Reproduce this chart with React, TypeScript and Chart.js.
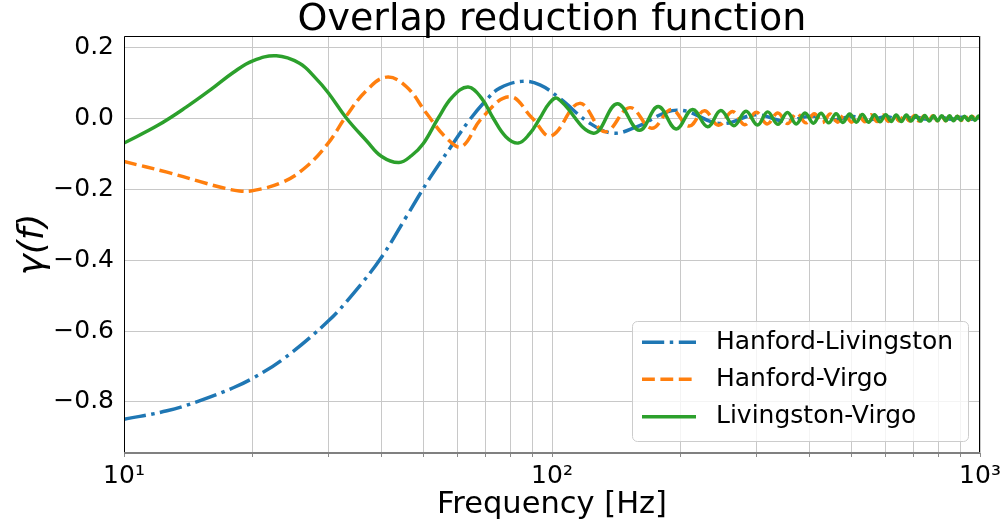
import { useEffect, useRef } from "react";
import { Chart, registerables } from "chart.js";

Chart.register(...registerables);

const FONT = "'DejaVu Sans', 'Liberation Sans', sans-serif";

const chartTitle = "Overlap reduction function";
const xAxisTitle = "Frequency [Hz]";
const yAxisTitle = "γ(f)";
const seriesNames = ["Hanford-Livingston", "Hanford-Virgo", "Livingston-Virgo"];
const seriesColors = ["#1f77b4", "#ff7f0e", "#2ca02c"];

// Hanford-Livingston
const hlFreq = [
  10, 12.6, 15, 18, 20, 23.5, 30, 34.3, 40, 45.7,
  51.8, 57.7, 63.7, 70.3, 75.5, 85, 93.7, 104.3, 122.6, 139,
  157.6, 196, 248, 300, 350, 402, 452, 503, 553, 605,
  655, 706, 756, 807, 857, 908, 958, 1000,
];
const hlGamma = [
  -0.849, -0.825, -0.797, -0.76, -0.733, -0.68, -0.572, -0.495, -0.391, -0.277,
  -0.169, -0.085, -0.01, 0.052, 0.085, 0.104, 0.094, 0.056, -0.014, -0.042,
  -0.024, 0.023, -0.015, 0.01, -0.008, 0.006, -0.005, 0.005, -0.004, 0.004,
  -0.004, 0.003, -0.003, 0.003, -0.003, 0.003, -0.003, 0.001,
];

// Hanford-Virgo
const hvFreq = [
  10, 12.6, 15, 17, 18.6, 20, 23.5, 26.7, 30, 33.1,
  36.9, 41.1, 45.7, 50.9, 56.7, 61.5, 68.5, 79.7, 90, 99.5,
  116, 133, 152, 171, 190, 209, 227, 245, 264, 282,
  300, 318, 337, 355, 373, 392, 410, 428, 447, 465,
  483, 501, 520, 538, 556, 575, 593, 611, 630, 648,
  666, 685, 703, 721, 740, 758, 776, 795, 813, 831,
  849, 868, 886, 904, 923, 941, 959, 978, 996, 1000,
];
const hvGamma = [
  -0.122, -0.152, -0.178, -0.196, -0.205, -0.204, -0.18, -0.136, -0.07, 0.007,
  0.079, 0.116, 0.089, 0.014, -0.056, -0.08, 0.0, 0.061, 0.0, -0.05,
  0.042, -0.038, 0.03, -0.028, 0.025, -0.022, 0.021, -0.02, 0.019, -0.018,
  0.017, -0.016, 0.015, -0.015, 0.014, -0.013, 0.013, -0.012, 0.012, -0.011,
  0.011, -0.011, 0.01, -0.01, 0.01, -0.009, 0.009, -0.009, 0.009, -0.008,
  0.008, -0.008, 0.008, -0.008, 0.007, -0.007, 0.007, -0.007, 0.007, -0.007,
  0.006, -0.006, 0.006, -0.006, 0.006, -0.006, 0.006, -0.005, 0.005, 0.004,
];

// Livingston-Virgo
const lvFreq = [
  10, 12, 14, 16, 18, 20, 22.7, 25.7, 28, 30,
  33.1, 36.9, 40, 43.9, 47, 50, 54.2, 58.5, 63.7, 68.5,
  72.9, 78, 83.4, 88.5, 93.7, 98.5, 103, 125, 142, 160,
  177, 195, 213, 231, 248, 266, 284, 302, 319, 337,
  355, 372, 390, 408, 425, 443, 461, 478, 496, 514,
  531, 549, 567, 584, 602, 620, 637, 655, 673, 690,
  708, 726, 743, 761, 779, 796, 814, 832, 849, 867,
  885, 902, 920, 938, 955, 973, 991, 1000,
];
const lvGamma = [
  -0.07, -0.02, 0.032, 0.082, 0.129, 0.162, 0.176, 0.155, 0.114, 0.072,
  0.0, -0.064, -0.108, -0.125, -0.105, -0.072, 0.0, 0.06, 0.088, 0.056,
  0.0, -0.052, -0.07, -0.045, 0.0, 0.042, 0.056, -0.042, 0.041, -0.034,
  0.033, -0.03, 0.025, -0.024, 0.022, -0.021, 0.02, -0.019, 0.018, -0.017,
  0.016, -0.016, 0.015, -0.014, 0.014, -0.013, 0.013, -0.012, 0.012, -0.011,
  0.011, -0.011, 0.01, -0.01, 0.01, -0.009, 0.009, -0.009, 0.009, -0.008,
  0.008, -0.008, 0.008, -0.008, 0.007, -0.007, 0.007, -0.007, 0.007, -0.007,
  0.006, -0.006, 0.006, -0.006, 0.006, -0.006, 0.006, 0.004,
];

const xTickValues = [
  10, 20, 30, 40, 50, 60, 70, 80, 90,
  100, 200, 300, 400, 500, 600, 700, 800, 900, 1000,
];
const xMajorTicks = [10, 100, 1000];
const xMajorLabels = ["10¹", "10²", "10³"];
const yTickValues = [-0.8, -0.6, -0.4, -0.2, 0.0, 0.2];
const yTickLabels = ["−0.8", "−0.6", "−0.4", "−0.2", "0.0", "0.2"];

const LW = 3.47;
const dashes = [
  [6.4 * LW, 1.6 * LW, 1 * LW, 1.6 * LW],
  [3.7 * LW, 1.6 * LW],
  [],
];

const toPoints = (xs: number[], ys: number[]) => xs.map((x, i) => ({ x, y: ys[i] }));

const decorPlugin = {
  id: "decor",
  afterDatasetsDraw(chart: any) {
    const { ctx, chartArea: a } = chart;
    ctx.save();
    // frame
    ctx.strokeStyle = "#000";
    ctx.lineWidth = 1;
    ctx.beginPath();
    ctx.moveTo(a.left + 0.5, a.bottom);
    ctx.lineTo(a.left + 0.5, a.top + 0.5);
    ctx.lineTo(a.right - 0.5, a.top + 0.5);
    ctx.lineTo(a.right - 0.5, a.bottom);
    ctx.stroke();
    ctx.strokeStyle = "#808080";
    ctx.lineWidth = 2;
    ctx.beginPath();
    ctx.moveTo(a.left, a.bottom);
    ctx.lineTo(a.right, a.bottom);
    ctx.stroke();
    ctx.restore();
  },
  afterDraw(chart: any) {
    const { ctx, chartArea: a } = chart;
    ctx.save();
    // title
    ctx.fillStyle = "#000";
    ctx.font = `38px ${FONT}`;
    ctx.textAlign = "center";
    ctx.textBaseline = "alphabetic";
    ctx.fillText(chartTitle, (a.left + a.right) / 2, 29.5);

    // legend box, lower right
    const w = 336;
    const h = 120;
    const x0 = a.right - 12 - w;
    const y0 = a.bottom - 12 - h;
    ctx.beginPath();
    ctx.roundRect(x0 + 0.5, y0 + 0.5, w, h, 5);
    ctx.fillStyle = "rgba(255,255,255,0.8)";
    ctx.fill();
    ctx.strokeStyle = "#cccccc";
    ctx.lineWidth = 1;
    ctx.stroke();

    const rowY = [y0 + 21.3, y0 + 58.3, y0 + 95.7];
    ctx.font = `25px ${FONT}`;
    ctx.textAlign = "left";
    ctx.textBaseline = "middle";
    seriesNames.forEach((name, i) => {
      ctx.beginPath();
      ctx.setLineDash(dashes[i]);
      ctx.lineDashOffset = 0;
      ctx.strokeStyle = seriesColors[i];
      ctx.lineWidth = LW;
      ctx.lineCap = "butt";
      ctx.moveTo(x0 + 10, rowY[i]);
      ctx.lineTo(x0 + 64, rowY[i]);
      ctx.stroke();
      ctx.setLineDash([]);
      ctx.fillStyle = "#000";
      ctx.fillText(name, x0 + 84, rowY[i]);
    });
    ctx.restore();
  },
};

export default function App() {
  const ref = useRef<HTMLCanvasElement>(null);

  useEffect(() => {
    document.body.style.margin = "0";
    const series = [
      { f: hlFreq, g: hlGamma },
      { f: hvFreq, g: hvGamma },
      { f: lvFreq, g: lvGamma },
    ];
    const chart = new Chart(ref.current as HTMLCanvasElement, {
      type: "line",
      data: {
        datasets: series.map((s, i) => ({
          label: seriesNames[i],
          data: toPoints(s.f, s.g),
          borderColor: seriesColors[i],
          backgroundColor: seriesColors[i],
          borderWidth: LW,
          borderDash: dashes[i],
          borderCapStyle: "butt",
          borderJoinStyle: "round",
          pointRadius: 0,
          fill: false,
          tension: 0.4,
          order: 2 - i,
        })),
      },
      options: {
        responsive: false,
        animation: false,
        devicePixelRatio: 1,
        events: [],
        layout: { padding: { top: 36, right: 26, bottom: 0, left: 0 } },
        plugins: {
          legend: { display: false },
          title: { display: false },
          tooltip: { enabled: false },
        },
        scales: {
          x: {
            type: "logarithmic",
            min: 10,
            max: 1000,
            afterBuildTicks: (s: any) => {
              s.ticks = xTickValues.map((v) => ({ value: v }));
            },
            afterFit: (s: any) => {
              s.height = 76;
            },
            border: { display: false },
            grid: {
              color: "#c8c8c8",
              lineWidth: 1,
              drawTicks: true,
              tickLength: 4,
              tickColor: "#8a8a8a",
            },
            ticks: {
              autoSkip: false,
              maxRotation: 0,
              minRotation: 0,
              padding: 4,
              color: "#000",
              font: { family: FONT, size: 25 },
              callback: (v: any) => {
                const k = xMajorTicks.indexOf(Number(v));
                return k >= 0 ? xMajorLabels[k] : "";
              },
            },
            title: {
              display: true,
              text: xAxisTitle,
              color: "#000",
              font: { family: FONT, size: 30.5 },
              padding: { top: 0, bottom: 6 },
            },
          },
          y: {
            type: "linear",
            min: -0.944,
            max: 0.232,
            afterBuildTicks: (s: any) => {
              s.ticks = yTickValues.map((v) => ({ value: v }));
            },
            afterFit: (s: any) => {
              s.width = 124;
            },
            border: { display: false },
            grid: { color: "#c8c8c8", lineWidth: 1, drawTicks: false },
            ticks: {
              padding: 10,
              color: "#000",
              font: { family: FONT, size: 25 },
              callback: (v: any) => {
                const k = yTickValues.findIndex((t) => Math.abs(t - Number(v)) < 1e-9);
                return k >= 0 ? yTickLabels[k] : "";
              },
            },
            title: {
              display: true,
              text: yAxisTitle,
              color: "#000",
              font: { family: FONT, size: 36, style: "italic" },
              padding: { top: 12, bottom: 0 },
            },
          },
        },
      },
      plugins: [decorPlugin],
    } as any);
    return () => chart.destroy();
  }, []);

  return (
    <canvas
      ref={ref}
      width={1006}
      height={529}
      style={{ display: "block", width: 1006, height: 529 }}
    />
  );
}
